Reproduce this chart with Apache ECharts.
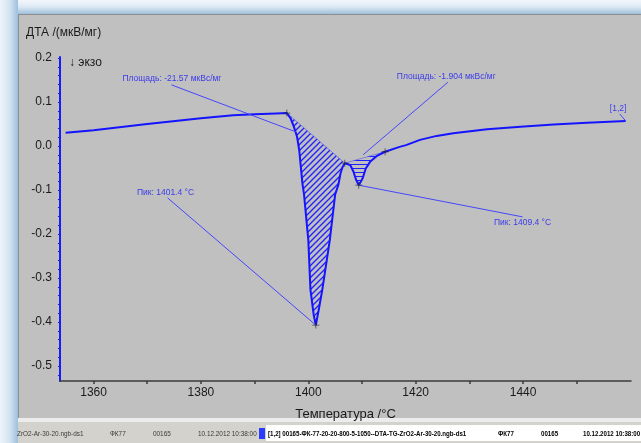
<!DOCTYPE html>
<html>
<head>
<meta charset="utf-8">
<script src="https://cdn.jsdelivr.net/npm/echarts@6/dist/echarts.min.js"></script>
<style>
  html, body { margin: 0; padding: 0; background: #c0c0c0; }
  #chart { width: 641px; height: 443px; }
</style>
</head>
<body>
<div id="chart"></div>
<script>
// DTA signal, °C vs мкВ/мг
const temperature = [
  1354.8, 1360, 1370, 1380, 1386, 1390, 1394, 1396.0, 1396.7, 1397.3, 1397.9,
  1398.3, 1398.6, 1398.9, 1399.2, 1400.0, 1400.4, 1401.0, 1401.4, 1402.0, 1402.6,
  1404.0, 1405.0, 1405.6, 1406.0, 1406.4, 1406.8, 1407.8, 1408.4, 1408.9, 1409.4,
  1410.1, 1410.7, 1411.5, 1412.7, 1414.3, 1417.0, 1418.2, 1420.8, 1423.9, 1427.0,
  1433.3, 1439.5, 1445.7, 1451.9, 1459.1
];
const dta = [
  0.030, 0.036, 0.050, 0.063, 0.070, 0.072, 0.074, 0.075, 0.063, 0.044, 0.021,
  -0.009, -0.047, -0.085, -0.110, -0.214, -0.327, -0.384, -0.407, -0.368, -0.327,
  -0.214, -0.110, -0.088, -0.062, -0.047, -0.039, -0.043, -0.058, -0.077, -0.089,
  -0.074, -0.051, -0.036, -0.023, -0.013, -0.002, 0.002, 0.014, 0.023, 0.029,
  0.038, 0.044, 0.049, 0.053, 0.057
];

// integration limits of the two peaks and their peak temperatures
const areaLimits1 = [1396.0, 1406.8];
const areaLimits2 = [1406.8, 1414.3];
const peakTemps = [1401.4, 1409.4];
const areaValues = [-21.57, -1.904];

// axis ticks and labels
const xLabelTicks = [1360, 1380, 1400, 1420, 1440];
const xMinorTicks = [1360, 1370, 1380, 1390, 1400, 1410, 1420, 1430, 1440, 1450];
const yLabelTicks = [0.2, 0.1, 0.0, -0.1, -0.2, -0.3, -0.4, -0.5];
const yMinorTicks = [];
for (let k = -26; k <= 10; k++) yMinorTicks.push(+(k * 0.02).toFixed(2));

const statusLeft = ['ZrO2-Ar-30-20.ngb-ds1', 'ФК77', '00165', '10.12.2012 10:38:00'];
const statusRight = ['[1,2] 00165-ФК-77-20-20-800-5-1050--DTA-TG-ZrO2-Ar-30-20.ngb-ds1', 'ФК77', '00165', '10.12.2012 10:38:00'];

const points = temperature.map((t, i) => [t, dta[i]]);
const valueAt = t => dta[temperature.indexOf(t)];
const segment = lim => points.filter(p => p[0] >= lim[0] && p[0] <= lim[1]);
const markerTemps = [areaLimits1[0], peakTemps[0], areaLimits1[1], peakTemps[1], areaLimits2[1]];
const markers = markerTemps.map(t => [t, valueAt(t)]);

// hatch fills
function hatch(kind) {
  const c = document.createElement('canvas');
  const s = kind === 'diag' ? 6 : 4;
  c.width = s; c.height = s;
  const g = c.getContext('2d');
  g.strokeStyle = '#2020ff';
  g.lineWidth = kind === 'diag' ? 1.3 : 1;
  g.beginPath();
  if (kind === 'diag') {
    g.moveTo(-1, s + 1); g.lineTo(s + 1, -1);
    g.moveTo(-1, 1); g.lineTo(1, -1);
    g.moveTo(s - 1, s + 1); g.lineTo(s + 1, s - 1);
  } else {
    g.moveTo(0, 0.5); g.lineTo(s, 0.5);
  }
  g.stroke();
  return { image: c, repeat: 'repeat' };
}
const diagFill = hatch('diag');
const horizFill = hatch('horiz');

// annotations: text anchor, leader line start/end (data coords)
const annotations = [
  { text: 'Площадь: ' + areaValues[0] + ' мкВс/мг', at: [1374.6, 0.152], from: [1374.5, 0.139], to: [1397.7, 0.032] },
  { text: 'Площадь: ' + areaValues[1] + ' мкВс/мг', at: [1425.7, 0.157], from: [1426.0, 0.145], to: [1410.2, -0.020] },
  { text: 'Пик: ' + peakTemps[0] + ' °C', at: [1373.4, -0.107], from: [1373.8, -0.118], to: [peakTemps[0], valueAt(peakTemps[0])] },
  { text: 'Пик: ' + peakTemps[1] + ' °C', at: [1439.9, -0.175], from: [1439.9, -0.161], to: [peakTemps[1], valueAt(peakTemps[1])] },
  { text: '[1,2]', at: [1457.7, 0.086], from: [1458.0, 0.073], to: [temperature[temperature.length - 1], dta[dta.length - 1]] }
];

const chart = echarts.init(document.getElementById('chart'), null, { renderer: 'canvas' });

const frame = [
  // window glow along the top and left
  { type: 'rect', shape: { x: 0, y: 0, width: 641, height: 14 }, z: -10,
    style: { fill: new echarts.graphic.LinearGradient(0, 0, 0, 1, [
      { offset: 0, color: '#f3f7fb' }, { offset: 0.5, color: '#dbe8f3' }, { offset: 1, color: '#9fc0dc' }]) } },
  { type: 'rect', shape: { x: 0, y: 0, width: 18, height: 443 }, z: -10,
    style: { fill: new echarts.graphic.LinearGradient(0, 0, 1, 0, [
      { offset: 0, color: '#eef4fa' }, { offset: 0.55, color: '#d2e3f1' }, { offset: 1, color: '#9dbfdc' }]) } },
  { type: 'line', shape: { x1: 18.5, y1: 14, x2: 18.5, y2: 419 }, z: -9, style: { stroke: '#8c8c8c', lineWidth: 1 } },
  { type: 'line', shape: { x1: 18, y1: 14.5, x2: 641, y2: 14.5 }, z: -9, style: { stroke: '#8c8c8c', lineWidth: 1 } },
  // status bar
  { type: 'rect', shape: { x: 18, y: 418, width: 623, height: 4 }, z: -9, style: { fill: '#ececec' } },
  { type: 'rect', shape: { x: 18, y: 422, width: 623, height: 21 }, z: -9, style: { fill: '#d4d2cc' } },
  { type: 'rect', shape: { x: 266, y: 425, width: 375, height: 16 }, z: -8, style: { fill: '#ffffff' } },
  { type: 'rect', shape: { x: 259, y: 428, width: 6, height: 11 }, z: -7, style: { fill: '#2a3cff' } },
  // axis titles
  { type: 'text', x: 26, y: 33, z: 5, style: { text: 'ДТА /(мкВ/мг)', font: '12px "Liberation Sans", Arial, sans-serif', fill: '#1a1a1a', verticalAlign: 'middle' } },
  { type: 'text', x: 69, y: 63, z: 5, style: { text: '↓ экзо', font: '12px "Liberation Sans", Arial, sans-serif', fill: '#1a1a1a', verticalAlign: 'middle' } }
];
const leftX = [17, 110, 153, 198];
statusLeft.forEach((s, i) => frame.push({ type: 'text', x: leftX[i], y: 434, z: 5, scaleX: 0.8,
  style: { text: s, font: '8px "Liberation Sans", Arial, sans-serif', fill: '#3a3a3a', verticalAlign: 'middle' } }));
const rightX = [268, 498, 541, 583];
statusRight.forEach((s, i) => frame.push({ type: 'text', x: rightX[i], y: 434, z: 5, scaleX: 0.82,
  style: { text: s, font: 'bold 7.5px "Liberation Sans", Arial, sans-serif', fill: '#000000', verticalAlign: 'middle' } }));

function areaSeries(lim, fill) {
  const seg = segment(lim);
  return {
    type: 'custom', data: [0], silent: true, clip: true, z: 2,
    renderItem: function (params, api) {
      const pts = seg.map(p => api.coord(p));
      return {
        type: 'group', children: [
          { type: 'polygon', shape: { points: pts }, style: { fill: fill, stroke: null } },
          { type: 'line', shape: { x1: pts[0][0], y1: pts[0][1], x2: pts[pts.length - 1][0], y2: pts[pts.length - 1][1] },
            style: { stroke: 'rgba(60,60,255,0.5)', lineWidth: 1 } }
        ]
      };
    }
  };
}

chart.setOption({
  backgroundColor: '#c0c0c0',
  animation: false,
  graphic: frame,
  grid: { left: 60, right: 10, top: 57, bottom: 62, containLabel: false },
  xAxis: {
    type: 'value', min: 1353.75, max: 1460.1,
    name: 'Температура /°C', nameLocation: 'middle', nameGap: 27,
    nameTextStyle: { fontFamily: 'Liberation Sans', fontSize: 13, color: '#1a1a1a' },
    axisLine: { show: true, onZero: false, lineStyle: { color: '#3a3a3a', width: 1.5 } },
    axisTick: { show: true, customValues: xMinorTicks, length: 3, lineStyle: { color: '#3a3a3a', width: 1.5 } },
    axisLabel: { customValues: xLabelTicks, margin: 6, fontFamily: 'Liberation Sans', fontSize: 12, color: '#1a1a1a',
      formatter: v => String(v) },
    splitLine: { show: false }
  },
  yAxis: {
    type: 'value', min: -0.534, max: 0.2023,
    axisLine: { show: true, onZero: false, lineStyle: { color: '#1a1aff', width: 2 } },
    axisTick: { show: true, customValues: yMinorTicks, length: 2, lineStyle: { color: '#1a1aff', width: 1 } },
    axisLabel: { customValues: yLabelTicks, margin: 8, fontFamily: 'Liberation Sans', fontSize: 12, color: '#1a1a1a',
      formatter: v => v.toFixed(1) },
    splitLine: { show: false }
  },
  series: [
    areaSeries(areaLimits1, diagFill),
    areaSeries(areaLimits2, horizFill),
    {
      type: 'line', data: points, showSymbol: false, symbol: 'none', z: 3,
      lineStyle: { color: '#1414ff', width: 2 }, silent: true
    },
    {
      type: 'custom', data: annotations.map((a, i) => i), silent: true, z: 4, clip: false,
      renderItem: function (params, api) {
        const a = annotations[params.dataIndex];
        const p = api.coord(a.at), f = api.coord(a.from), t = api.coord(a.to);
        return {
          type: 'group', children: [
            { type: 'line', shape: { x1: f[0], y1: f[1], x2: t[0], y2: t[1] }, style: { stroke: '#4646ff', lineWidth: 1 } },
            { type: 'text', x: p[0], y: p[1], style: { text: a.text, font: '8.5px "Liberation Sans", Arial, sans-serif',
              fill: '#3b3bea', align: 'center', verticalAlign: 'middle' } }
          ]
        };
      }
    },
    {
      type: 'scatter', data: markers, z: 5, silent: true,
      symbol: 'path://M4,0h1v9h-1zM0,4h9v1h-9z', symbolSize: 7,
      itemStyle: { color: '#202020' }
    }
  ]
});
</script>
</body>
</html>
